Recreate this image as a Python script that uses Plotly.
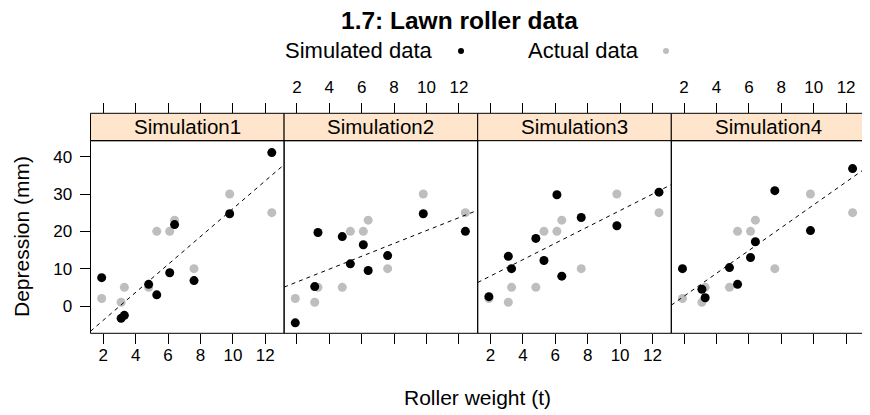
import numpy as np
import plotly.graph_objects as go

# ---- data ----
weight = [1.9, 3.1, 3.3, 4.8, 5.3, 6.1, 6.4, 7.6, 9.8, 12.4]
depression = [2, 1, 5, 5, 20, 20, 23, 10, 30, 25]
sim1 = [7.6, -3.3, -2.5, 5.8, 3.0, 8.9, 21.8, 6.8, 24.7, 41.1]
sim2 = [-4.5, 5.2, 19.7, 18.6, 11.3, 16.4, 9.5, 13.5, 24.7, 20.0]
sim3 = [2.5, 13.3, 10.0, 18.1, 12.2, 29.8, 8.0, 23.7, 21.5, 30.5]
sim4 = [10.0, 4.5, 2.2, 10.3, 5.8, 13.0, 17.2, 30.9, 20.2, 36.8]
sims = [sim1, sim2, sim3, sim4]
panel_names = ["Simulation1", "Simulation2", "Simulation3", "Simulation4"]
x_ticks = [2, 4, 6, 8, 10, 12]
y_ticks = [0, 10, 20, 30, 40]

W, H = 870, 415
OFF = 8  # page body margin of the browser
FONT = "Liberation Sans, Arial, sans-serif"
XR = [1.21, 13.16]
YR = [-7.31, 44.28]

def px(x):
    return (x - OFF) / W

def py(y):
    return 1 - (y - OFF) / H

left0 = 90.5
pw = 193.6
plot_top, plot_bot = 140.7, 333.3
strip_top = 113.3

fig = go.Figure()
shapes = []
annotations = []

for i in range(4):
    xa = "x" if i == 0 else f"x{i+1}"
    xt = f"x{i+5}"
    l = left0 + i * pw
    r = l + pw
    dom = [px(l), px(r)]
    fig.add_trace(go.Scatter(x=weight, y=depression, mode="markers", xaxis=xa, yaxis="y",
                             marker=dict(color="#BEBEBE", size=9), showlegend=False, hoverinfo="skip"))
    fig.add_trace(go.Scatter(x=weight, y=sims[i], mode="markers", xaxis=xa, yaxis="y",
                             marker=dict(color="black", size=9), showlegend=False, hoverinfo="skip"))
    b, a = np.polyfit(weight, sims[i], 1)
    lx = np.array(XR)
    fig.add_trace(go.Scatter(x=lx, y=a + b * lx, mode="lines", xaxis=xt, yaxis="y",
                             line=dict(color="black", width=1, dash="4px,4px"),
                             showlegend=False, hoverinfo="skip"))
    common = dict(range=XR, tickvals=x_ticks, ticks="outside", ticklen=10, tickcolor="black",
                  tickwidth=1, showgrid=False, zeroline=False, showline=False,
                  tickfont=dict(family=FONT, size=17, color="black"))
    fig.layout[("xaxis" if i == 0 else f"xaxis{i+1}")] = dict(
        domain=dom, anchor="y", side="bottom", showticklabels=(i % 2 == 0),
        ticklabelstandoff=-4, **common)
    fig.layout[f"xaxis{i+5}"] = dict(
        domain=dom, anchor="free", overlaying=xa, side="top", position=py(strip_top),
        showticklabels=(i % 2 == 1), ticklabelstandoff=4, **common)
    shapes.append(dict(type="rect", xref="paper", yref="paper", x0=px(l), x1=px(r),
                       y0=py(plot_bot), y1=py(plot_top), line=dict(color="black", width=1)))
    shapes.append(dict(type="rect", xref="paper", yref="paper", x0=px(l), x1=px(r),
                       y0=py(plot_top), y1=py(strip_top), fillcolor="#FFE5CC",
                       line=dict(color="black", width=1), layer="below"))
    annotations.append(dict(text=panel_names[i], xref="paper", yref="paper",
                            x=px((l + r) / 2), y=py((plot_top + strip_top) / 2),
                            showarrow=False, xanchor="center", yanchor="middle",
                            font=dict(family=FONT, size=20.5, color="black")))

yc = dict(range=YR, tickvals=y_ticks, ticks="outside", ticklen=10, tickcolor="black", tickwidth=1,
          showgrid=False, zeroline=False, showline=False,
          domain=[py(plot_bot), py(plot_top)],
          tickfont=dict(family=FONT, size=17, color="black"))
fig.layout.yaxis = dict(anchor="x", side="left", ticklabelstandoff=4, **yc)
fig.layout.yaxis2 = dict(anchor="x4", side="right", overlaying="y", showticklabels=False, **yc)
fig.add_trace(go.Scatter(x=[None], y=[None], xaxis="x4", yaxis="y2", showlegend=False, hoverinfo="skip"))

annotations.append(dict(text="<b>1.7: Lawn roller data</b>", xref="paper", yref="paper",
                        x=px(460), y=py(21), showarrow=False, xanchor="center", yanchor="middle",
                        font=dict(family=FONT, size=24.5, color="black")))
annotations.append(dict(text="Roller weight (t)", xref="paper", yref="paper",
                        x=px(477.5), y=py(397), showarrow=False, xanchor="center", yanchor="middle",
                        font=dict(family=FONT, size=21, color="black")))
annotations.append(dict(text="Depression (mm)", xref="paper", yref="paper", textangle=-90,
                        x=px(21), y=py(237), showarrow=False, xanchor="center", yanchor="middle",
                        font=dict(family=FONT, size=21, color="black")))
annotations.append(dict(text="Simulated data", xref="paper", yref="paper",
                        x=px(283), y=py(51), showarrow=False, xanchor="left", yanchor="middle",
                        font=dict(family=FONT, size=22, color="black")))
annotations.append(dict(text="Actual data", xref="paper", yref="paper",
                        x=px(526), y=py(51), showarrow=False, xanchor="left", yanchor="middle",
                        font=dict(family=FONT, size=22, color="black")))
for cx, col in [(461, "black"), (666, "#BEBEBE")]:
    shapes.append(dict(type="circle", xref="paper", yref="paper",
                       x0=px(cx - 3), x1=px(cx + 3), y0=py(54), y1=py(48),
                       fillcolor=col, line=dict(color=col, width=0)))

fig.update_layout(width=W, height=H, margin=dict(l=0, r=0, t=0, b=0),
                  paper_bgcolor="white", plot_bgcolor="white",
                  shapes=shapes, annotations=annotations, showlegend=False)
fig.write_html("out.html")
